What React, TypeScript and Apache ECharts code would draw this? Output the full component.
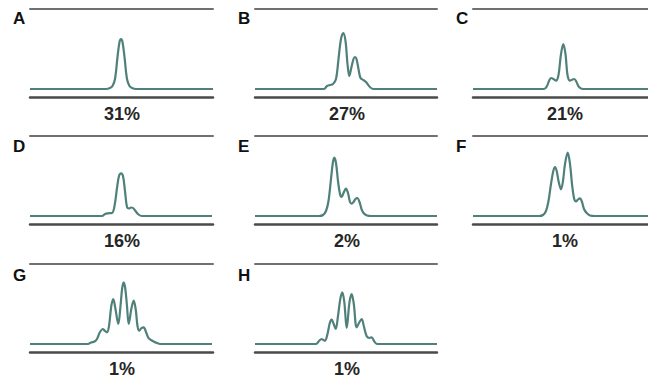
import React, { useEffect, useRef } from "react";
import * as echarts from "echarts";

// Panel letters and percentages
const panelLetters = ["A", "B", "C", "D", "E", "F", "G", "H"];
const percentLabels = ["31%", "27%", "21%", "16%", "2%", "1%", "1%", "1%"];

// Curves: [position along panel, height above baseline]
const curveA = [[0,0],[76,0],[80,1],[82.5,3],[85,10],[87.5,32],[89.5,47],[91,50],[92.5,47],[94.5,32],[97,10],[99.5,3],[102,1],[106,0],[183,0]];
const curveB = [[0,0],[69,0],[72,3],[75,4],[78,5],[81,10],[83.5,30],[86,50],[88.3,56],[90.5,48],[92.5,25],[94.3,13],[96.5,22],[98.5,30],[100,32],[101.5,30],[103.5,20],[105.5,11],[108.3,9],[111,7],[114,3],[118,0],[182,0]];
const curveC = [[0,0],[71,0],[74,3],[76,8],[78,11],[80.5,10],[83,8.3],[85.5,14],[88,35],[90.3,45],[92.5,35],[94.5,14],[97,8.3],[99.5,9.5],[101.3,10],[103.5,7],[106,2],[110,0],[175,0]];
const curveD = [[0,0],[72,0],[75,2],[78,2.7],[82,3],[84.5,10],[87,28],[89,40],[91,42.7],[93,40],[95,25],[97,9],[99,7.5],[101,8.5],[103,8],[105.5,5],[108.5,1.5],[112,0],[182,0]];
const curveE = [[0,0],[64,0],[68,1],[71,5],[73.5,15],[76,37],[77.8,53],[79.3,58.3],[81,53],[83,35],[85,22],[86.7,19],[88.5,23],[91,27.3],[93,23],[95,14],[96.7,12.3],[98.5,14],[100.5,17],[102.3,18],[104.5,14],[106.5,7],[108.5,3],[112,0.5],[117,0],[182,0]];
const curveF = [[0,0],[66,0],[70,1],[73,5],[75.5,15],[78,32],[80.3,45],[82,49],[83.7,45],[85.5,35],[88,26.7],[90,35],[92,52],[94.7,63.3],[97,52],[99,32],[101,18],[103,14.5],[105,16.5],[107,17.7],[109,14],[111,7],[113.7,3],[117,0.5],[122,0],[175,0]];
const curveG = [[0,0],[58,0],[61,1.5],[64.5,2.5],[67,5],[70,12],[72.7,15],[75,13],[77,11.7],[79,18],[81.3,38],[83.3,45],[85.3,36],[88.3,20],[90.5,38],[92.2,56],[93.7,61.7],[95.2,56],[97,38],[98.7,20],[101.5,36],[103.7,43.3],[105.8,34],[107.5,18],[109.3,13.3],[111.5,16],[113.7,16.7],[116,12],[118.5,6],[121,4],[124,2.3],[127,1],[130,0],[182,0]];
const curveH = [[0,0],[61,0],[64,3],[66.7,5],[68.5,4],[70,3.3],[72.5,10],[74.8,21],[76.7,24.3],[78.7,20],[80.7,15],[83,28],[85.3,45],[87.3,51.7],[89.3,42],[91.7,16],[94.5,42],[96.7,50],[98.8,40],[101.7,16.7],[104.5,22],[106.7,25],[108.8,18],[111.7,7.7],[114.5,6],[116.7,6.7],[119,3],[122,0],[182,0]];

const curves = [curveA, curveB, curveC, curveD, curveE, curveF, curveG, curveH];

// Layout (pixels)
const colLeft = [30, 255, 473];
const colWidth = [183, 182, 175];
const rowTop = [9, 136, 264];
const panelHeight = 88;
const yMin = -8;
const yMax = 80;

export default function App() {
  const ref = useRef<HTMLDivElement>(null);
  useEffect(() => {
    if (!ref.current) return;
    const chart = echarts.init(ref.current, null, { renderer: "svg" });
    const grids: any[] = [];
    const xAxes: any[] = [];
    const yAxes: any[] = [];
    const series: any[] = [];
    const graphics: any[] = [];
    curves.forEach((data, i) => {
      const r = Math.floor(i / 3);
      const c = i % 3;
      const left = colLeft[c];
      const width = colWidth[c];
      const top = rowTop[r];
      grids.push({ left, top, width, height: panelHeight, containLabel: false });
      xAxes.push({
        type: "value", gridIndex: i, min: 0, max: width, position: "bottom",
        axisLine: { show: true, onZero: false, lineStyle: { color: "#4a4a4a", width: 2.5 } },
        axisTick: { show: false }, axisLabel: { show: false }, splitLine: { show: false },
      });
      xAxes.push({
        type: "value", gridIndex: i, min: 0, max: width, position: "top",
        axisLine: { show: true, onZero: false, lineStyle: { color: "#707070", width: 2 } },
        axisTick: { show: false }, axisLabel: { show: false }, splitLine: { show: false },
      });
      yAxes.push({
        type: "value", gridIndex: i, min: yMin, max: yMax,
        axisLine: { show: false }, axisTick: { show: false }, axisLabel: { show: false }, splitLine: { show: false },
      });
      series.push({
        type: "line", xAxisIndex: i * 2, yAxisIndex: i, data,
        smooth: 0.35, showSymbol: false, symbol: "none",
        lineStyle: { color: "#4f807a", width: 2.2 },
        silent: true,
      });
      graphics.push({
        type: "text", left: left - 17, top: top + 1 + r,
        style: { text: panelLetters[i], fill: "#111", font: "bold 17px 'Liberation Sans', Arial, sans-serif" },
      });
      graphics.push({
        type: "text", x: left + 92, y: top + panelHeight + 17,
        style: { text: percentLabels[i], fill: "#262626", font: "bold 18px 'Liberation Sans', Arial, sans-serif", align: "center", verticalAlign: "middle" },
      });
    });
    chart.setOption({
      animation: false,
      backgroundColor: "#ffffff",
      grid: grids,
      xAxis: xAxes,
      yAxis: yAxes,
      series,
      graphic: graphics,
    });
    return () => chart.dispose();
  }, []);
  return <div ref={ref} style={{ position: "fixed", left: 0, top: 0, width: 648, height: 378 }} />;
}
